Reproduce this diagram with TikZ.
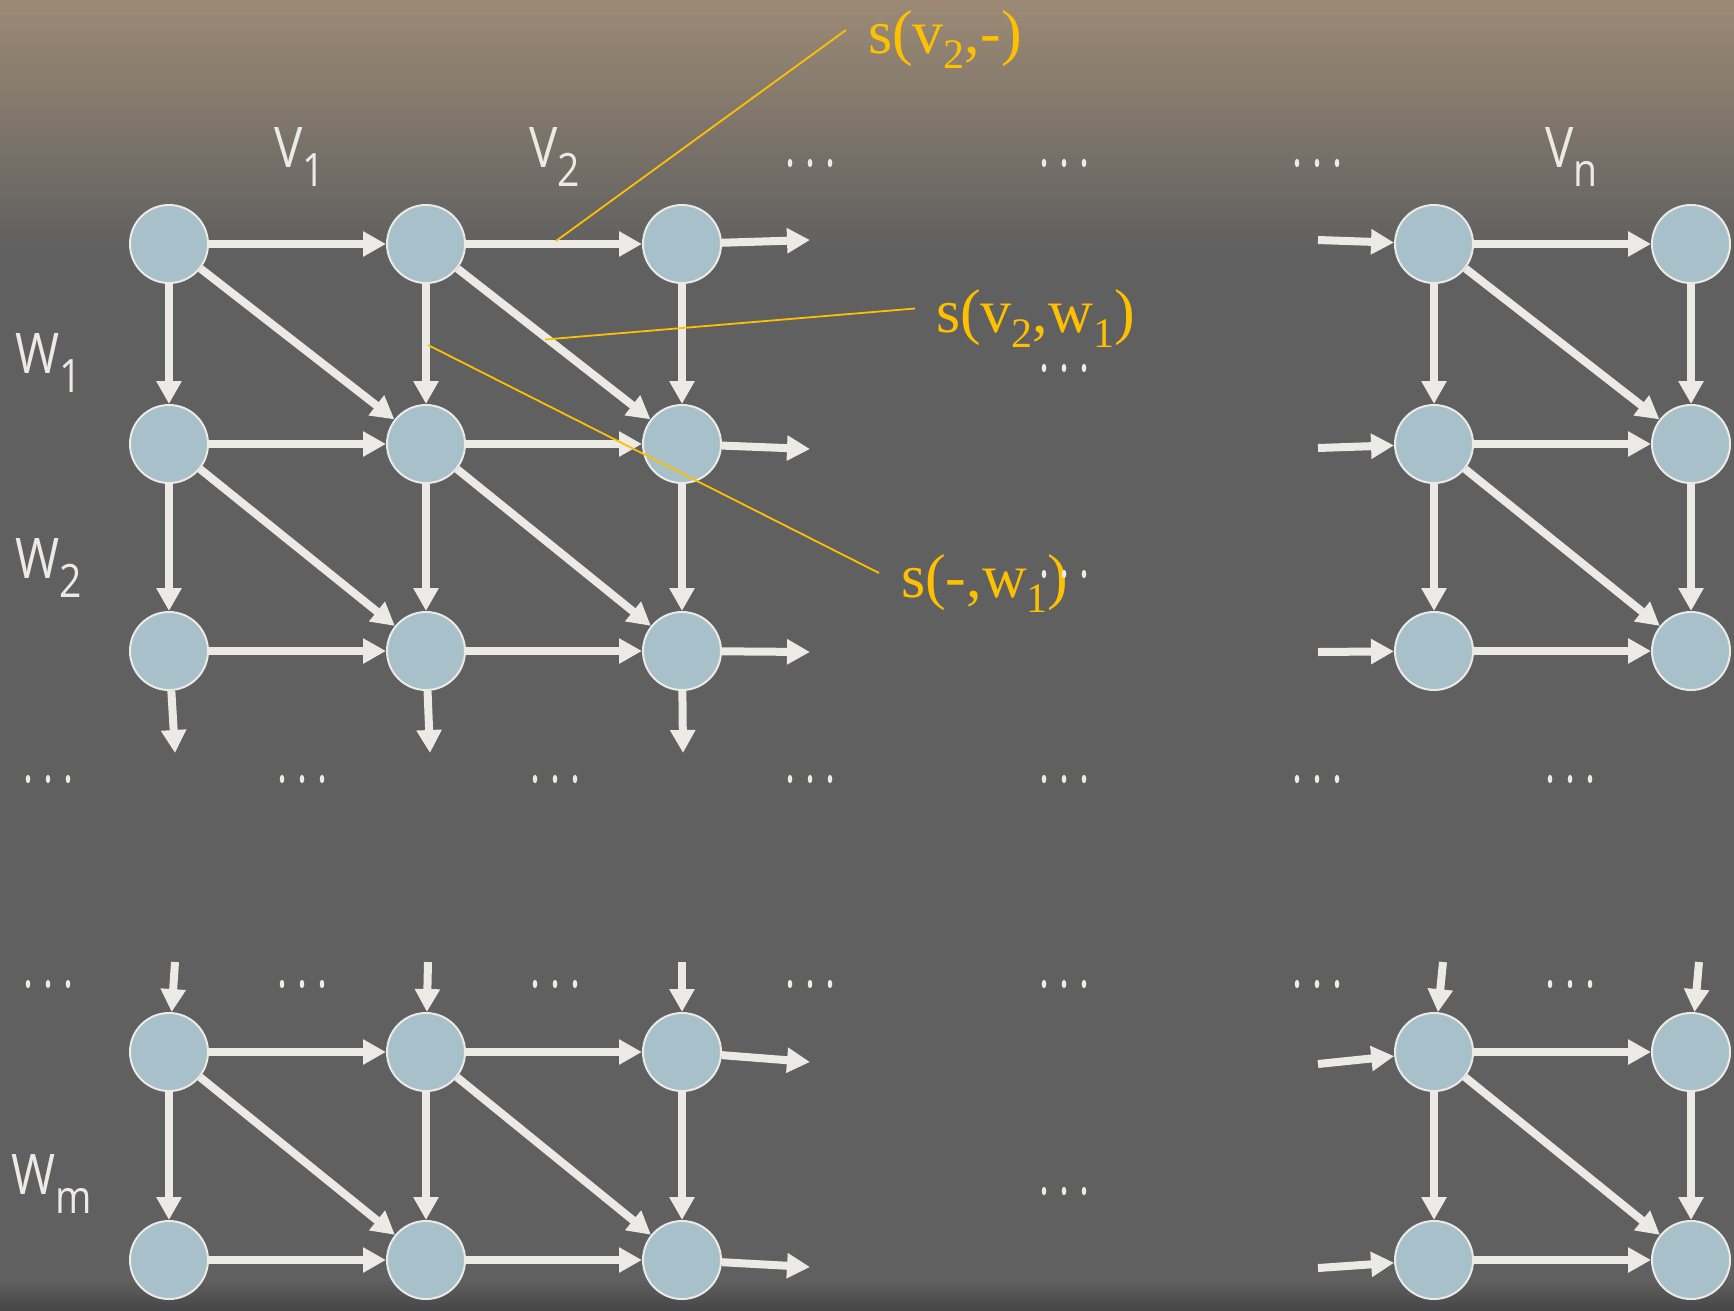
\documentclass[tikz,border=0pt]{standalone}
\usepackage{fontspec}
\setmainfont{Liberation Serif}
\newfontfamily\lblfont[FakeStretch=0.85]{Open Sans}
\usetikzlibrary{arrows.meta}
\definecolor{bgtop}{RGB}{156,138,117}
\definecolor{bggray}{RGB}{96,96,96}
\definecolor{bgbot}{RGB}{70,70,70}
\definecolor{edgec}{RGB}{236,234,228}
\definecolor{nodec}{RGB}{167,192,201}
\definecolor{gold}{RGB}{255,192,0}
\newcommand\lsub[1]{\raisebox{-19pt}{\fontsize{46}{46}\selectfont #1}}
\newcommand\gsub[1]{\raisebox{-15pt}{\fontsize{42}{42}\selectfont #1}}
\begin{document}
\begin{tikzpicture}[x=1pt,y=-1pt,
  vtx/.style={circle,fill=nodec,draw=edgec,line width=2pt,minimum size=78pt,inner sep=0pt},
  arr/.style={draw=edgec,line width=8pt,-{Triangle[length=23pt,width=24pt]}},
  leader/.style={draw=gold,line width=1.8pt},
  lbl/.style={text=edgec,font=\lblfont\fontsize{56}{56}\selectfont,inner sep=0pt,anchor=base west},
  glbl/.style={text=gold,font=\fontsize{62}{62}\selectfont,inner sep=0pt,anchor=base west},
  ell/.pic={\fill[edgec] (-20,0) ellipse (2.3 and 4.2) (0,0) ellipse (2.3 and 4.2) (20,0) ellipse (2.3 and 4.2);}
]
\useasboundingbox (0,0) rectangle (1734,1310);
\fill[bggray] (0,0) rectangle (1734,1310);
\shade[top color=bgtop,bottom color=bggray] (0,0) rectangle (1734,250);
\shade[top color=bggray,bottom color=bgbot] (0,1280) rectangle (1734,1310);

% vertices
\foreach \c/\x in {1/169,2/426,3/682,4/1434,5/1691}
  \foreach \r/\y in {1/244,2/444,3/651,4/1052,5/1260}
    \node[vtx] (n\c\r) at (\x,\y) {};

% stub coordinates
\coordinate (o1) at (810,240);
\coordinate (o2) at (810,449);
\coordinate (o3) at (810,652);
\coordinate (o4) at (810,1062);
\coordinate (o5) at (810,1267);
\coordinate (i1) at (1318,240);
\coordinate (i2) at (1318,448);
\coordinate (i3) at (1318,652);
\coordinate (i4) at (1318,1064);
\coordinate (i5) at (1318,1268);
\coordinate (d1) at (175,753);
\coordinate (d2) at (430,753);
\coordinate (d3) at (683,753);
\coordinate (u1) at (175,962);
\coordinate (u2) at (428,962);
\coordinate (u3) at (682,962);
\coordinate (u4) at (1443,962);
\coordinate (u5) at (1699,962);

% edges
\foreach \a/\b in {11/21,21/31,12/22,22/32,13/23,23/33,14/24,24/34,15/25,25/35,
                   41/51,42/52,43/53,44/54,45/55,
                   11/12,12/13,21/22,22/23,31/32,32/33,41/42,42/43,51/52,52/53,
                   14/15,24/25,34/35,44/45,54/55,
                   11/22,21/32,12/23,22/33,41/52,42/53,14/25,24/35,44/55}
  \draw[arr] (n\a) -- (n\b);
\foreach \k in {1,...,5} {
  \draw[arr] (n3\k) -- (o\k);
  \draw[arr] (i\k) -- (n4\k);
}
\foreach \k in {1,2,3} \draw[arr] (n\k3) -- (d\k);
\foreach \k in {1,...,5} \draw[arr] (u\k) -- (n\k4);

% labels
\node[lbl] (v1) at (274,167) {V\lsub{1}};
\node[lbl] (v2) at (529,167) {V\lsub{2}};
\node[lbl] (vn) at (1545,167) {V\lsub{n}};
\node[lbl] (w1) at (15,373) {W\lsub{1}};
\node[lbl] (w2) at (15,578) {W\lsub{2}};
\node[lbl] (wm) at (11,1194) {W\lsub{m}};

% gold labels
\node[glbl] (sv2) at (868,53) {s(v\gsub{2},-)};
\node[glbl] (sv2w1) at (936,332) {s(v\gsub{2},w\gsub{1})};
\node[glbl] (sw1) at (901,597) {s(-,w\gsub{1})};
\coordinate (a1) at (846,30);
\coordinate (b1) at (556,241);
\coordinate (a2) at (915,308.5);
\coordinate (b2) at (545,339.5);
\coordinate (a3) at (879,573);
\coordinate (b3) at (428,345);
\draw[leader] (a1) -- (b1);
\draw[leader] (a2) -- (b2);
\draw[leader] (a3) -- (b3);

% ellipses
\foreach \x in {810,1064,1317} \pic at (\x,163) {ell};
\pic at (1064,368) {ell};
\pic at (1064,574) {ell};
\foreach \x in {48,302,555,810,1064,1317,1570} {
  \pic at (\x,779) {ell};
  \pic at (\x,984) {ell};
}
\pic at (1064,1191) {ell};
\end{tikzpicture}
\end{document}
